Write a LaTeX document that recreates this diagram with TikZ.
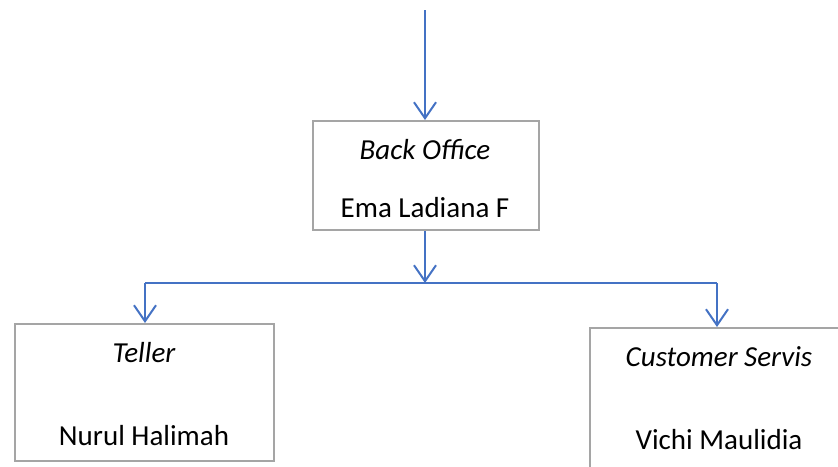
\documentclass[tikz,border=0pt]{standalone}
\usepackage{fontspec}
\setmainfont{Carlito}
\usetikzlibrary{arrows.meta}
\definecolor{conn}{HTML}{4472C4}
\definecolor{boxgray}{HTML}{A5A5A5}
\begin{document}
\begin{tikzpicture}[x=1pt,y=-1pt,
  orgbox/.style={draw=boxgray,line width=2.2pt,rectangle,inner sep=0pt,anchor=north west},
  lbl/.style={font=\fontsize{29}{34}\selectfont,inner sep=0pt},
  ital/.style={lbl,font=\fontsize{29}{34}\selectfont\itshape},
  link/.style={draw=conn,line width=2pt},
  arr/.style={link,-{Straight Barb[length=16pt,width=22pt,line width=2pt]}}]
\useasboundingbox (0,0) rectangle (838,466);
\clip (0,0) rectangle (838,466);
% boxes
\node[orgbox,minimum width=226pt,minimum height=109pt] (bo) at (312,120) {};
\node[orgbox,minimum width=259pt,minimum height=137pt] (te) at (14,323) {};
\node[orgbox,minimum width=300pt,minimum height=180pt] (cs) at (589,327) {};
% texts
\node[ital] (bot) at (425,150) {Back Office};
\node[lbl] (bon) at (425,208) {Ema Ladiana F};
\node[ital] (tet) at (144,353) {Teller};
\node[lbl] (ten) at (144,436) {Nurul Halimah};
\node[ital] (cst) at (719,357) {Customer Servis};
\node[lbl] (csn) at (719,440) {Vichi Maulidia};
% connectors
\coordinate (top) at (425,10);
\coordinate (jn) at (425,283);
\coordinate (jl) at (145,283);
\coordinate (jr) at (717,283);
\draw[arr] (top) -- (bo.north -| top);
\draw[arr] (bo.south -| top) -- (jn);
\draw[link] (jl) -- (jr);
\draw[arr] (jl) -- (jl |- te.north);
\draw[arr] (jr) -- (jr |- cs.north);
\end{tikzpicture}
\end{document}
